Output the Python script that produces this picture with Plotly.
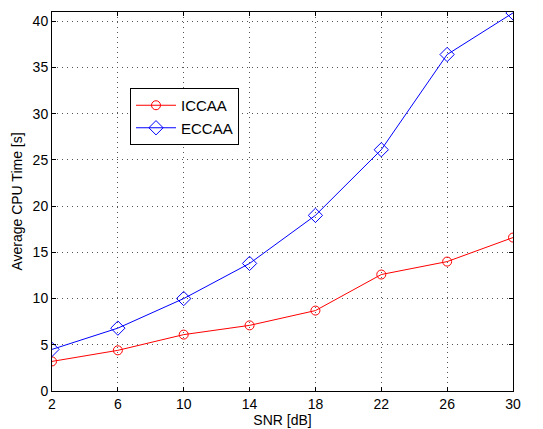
import plotly.graph_objects as go

snr = [2, 6, 10, 14, 18, 22, 26, 30]
iccaa = [3.2, 4.4, 6.1, 7.1, 8.7, 12.6, 14.0, 16.6]
eccaa = [4.5, 6.8, 10.0, 13.8, 19.0, 26.1, 36.4, 40.9]
x_ticks = [2, 6, 10, 14, 18, 22, 26, 30]
y_ticks = [0, 5, 10, 15, 20, 25, 30, 35, 40]

fig = go.Figure()
fig.add_trace(go.Scatter(x=snr, y=iccaa, name="ICCAA", mode="lines+markers",
                         line=dict(color="#ff0000", width=1),
                         marker=dict(symbol="circle-open", size=9, color="#ff0000", line=dict(width=1))))
fig.add_trace(go.Scatter(x=snr, y=eccaa, name="ECCAA", mode="lines+markers",
                         line=dict(color="#0000ff", width=1),
                         marker=dict(symbol="diamond-open", size=11, color="#0000ff", line=dict(width=1))))

axis_common = dict(showline=True, linecolor="black", linewidth=1, mirror="ticks",
                   ticks="inside", ticklen=4, tickcolor="black", automargin=False,
                   showgrid=True, gridcolor="#555", griddash="1px,4px", gridwidth=1,
                   zeroline=False, tickfont=dict(family="Liberation Sans, Arial", size=14, color="black"))

L, R, T, B = 44, 30, 4, 38
W, H = 535, 421
pw, ph = W - L - R, H - T - B

fig.update_layout(
    width=W, height=H,
    margin=dict(l=L, r=R, t=T, b=B),
    paper_bgcolor="white", plot_bgcolor="white",
    font=dict(family="Liberation Sans, Arial", size=14, color="black"),
    xaxis=dict(range=[2, 30], tickvals=x_ticks,
               title=dict(text="SNR [dB]", standoff=0, font=dict(size=14)), **axis_common),
    yaxis=dict(range=[0, 41], tickvals=y_ticks,
               title=dict(text="Average CPU Time [s]", standoff=6, font=dict(size=14)), **axis_common),
    legend=dict(x=(122 - L) / pw, y=1 - (80 - T) / ph, xanchor="left", yanchor="top",
                bgcolor="white", bordercolor="black", borderwidth=1,
                font=dict(size=15), tracegroupgap=0, itemwidth=40),
    showlegend=True,
)
fig.write_html("out.html")
